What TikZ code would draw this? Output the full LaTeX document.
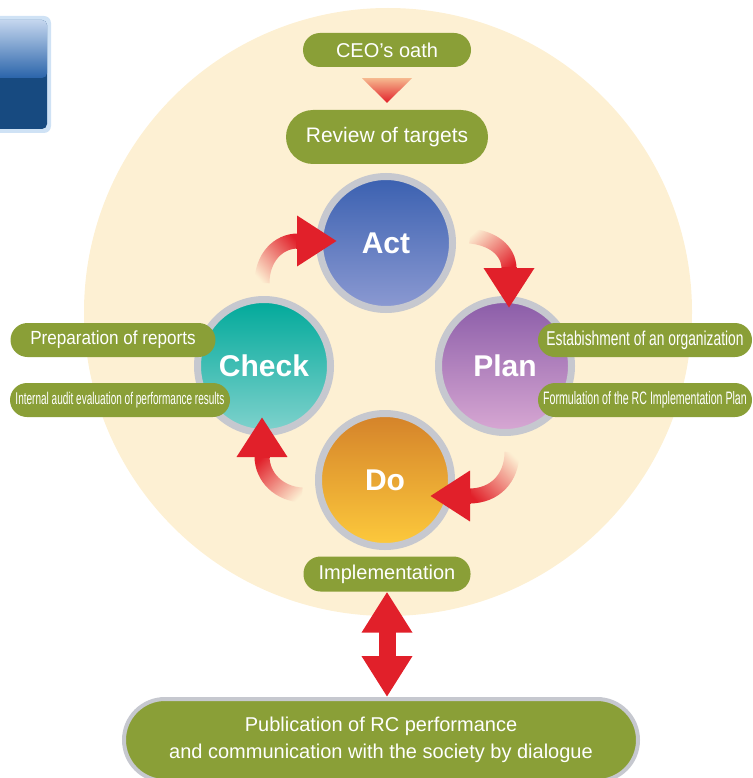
\documentclass[tikz,border=0pt]{standalone}
\usepackage{fontspec}
\setmainfont{Liberation Sans}
\usepackage{graphicx}
\usetikzlibrary{shadows,fadings,arrows.meta,calc}

\definecolor{beige}{HTML}{FDF0D3}
\definecolor{leaf}{HTML}{8A9F37}
\definecolor{cyclered}{HTML}{E1202A}
\definecolor{tritop}{HTML}{F6B88E}
\definecolor{ringgray}{HTML}{C6C8CF}
\definecolor{acttop}{HTML}{3A60B0}
\definecolor{actbot}{HTML}{8C9AD2}
\definecolor{checktop}{HTML}{00A99A}
\definecolor{checkbot}{HTML}{80D2CD}
\definecolor{plantop}{HTML}{8A5CA8}
\definecolor{planbot}{HTML}{D8A8D3}
\definecolor{dotop}{HTML}{D4822A}
\definecolor{dobot}{HTML}{FDCA3C}
\definecolor{boxrim}{HTML}{CFE2F5}
\definecolor{boxdark}{HTML}{174A80}
\definecolor{boxlight}{HTML}{C4D6EE}
\definecolor{boxmid}{HTML}{2A64AA}

\tikzfading[name=arrowfade, left color=transparent!100, middle color=transparent!0, right color=transparent!0]

\begin{document}
\begin{tikzpicture}[x=1pt,y=-1pt,
  pill/.style={rectangle, rounded corners=17pt, fill=leaf, text=white, minimum height=34pt,
    inner xsep=4pt, font=\fontsize{20}{24}\selectfont},
  phase/.style={circle, minimum size=133pt, draw=ringgray, line width=7pt, text=white,
    font=\fontsize{30}{36}\selectfont\bfseries,
    drop shadow={opacity=0.3, shadow xshift=0pt, shadow yshift=-3pt}},
  cycleshaft/.style={cyclered, line width=15pt, path fading=arrowfade},
  cyclehead/.style={cyclered, line width=15pt, -{Triangle[width=48pt,length=40pt]}}]
\useasboundingbox (0,0) rectangle (752,778);
\clip (0,0) rectangle (752,778);

% background
\fill[beige] (388,312) circle (304pt);
\fill[boxrim, rounded corners=7pt] (-20,16) rectangle (51,133);
\fill[boxdark, rounded corners=5pt] (-20,20) rectangle (47,129);
\shade[top color=boxlight, bottom color=boxmid, rounded corners=5pt] (-20,20) rectangle (47,78);

% targets
\node[pill, minimum width=168pt] (ceo) at (387,50) {CEO's oath};
\node[pill, minimum width=202pt, minimum height=54pt, rounded corners=27pt,
  font=\fontsize{21}{25}\selectfont] (review) at (387,137) {Review of targets};
\shade[top color=tritop, bottom color=cyclered] ($(ceo.south)+(-25,11)$) -- ($(ceo.south)+(25,11)$)
  -- ($(review.north)+(0,-7)$) -- cycle;

% cycle
\node[phase, top color=acttop, bottom color=actbot] (act) at (386,243) {Act};
\node[phase, top color=checktop, bottom color=checkbot] (check) at (264,366) {Check};
\node[phase, top color=plantop, bottom color=planbot] (plan) at (505,366) {Plan};
\node[phase, top color=dotop, bottom color=dobot] (do) at (385,480) {Do};

\coordinate (checkout) at (262,283);
\coordinate (actin) at (337,241);
\coordinate (actout) at (470,236);
\coordinate (planin) at (509,308);
\coordinate (planout) at (512,452);
\coordinate (doin) at (430,496);
\coordinate (doout) at (302,495);
\coordinate (checkin) at (262,417);
\draw[cycleshaft, fading angle=45] (checkout) .. controls (262,258) and (278,241) .. ($(actin)+(-39,0)$);
\draw[cyclehead] ($(actin)+(-41,0)$) -- (actin);
\draw[cycleshaft, fading angle=-45] (actout) .. controls (492,238) and (509,250) .. ($(planin)+(0,-39)$);
\draw[cyclehead] ($(planin)+(0,-41)$) -- (planin);
\draw[cycleshaft, fading angle=-135] (planout) .. controls (512,478) and (495,496) .. ($(doin)+(39,0)$);
\draw[cyclehead] ($(doin)+(41,0)$) -- (doin);
\draw[cycleshaft, fading angle=135] (doout) .. controls (280,494) and (262,478) .. ($(checkin)+(0,39)$);
\draw[cyclehead] ($(checkin)+(0,41)$) -- (checkin);

% tasks
\node[pill, minimum width=205pt, font=\fontsize{19}{23}\selectfont] (reports) at (113,340)
  {\scalebox{0.9}[1]{Preparation of reports}};
\node[pill, minimum width=220pt, font=\fontsize{17}{21}\selectfont] (audit) at (120,400)
  {\scalebox{0.59}[1]{Internal audit evaluation of performance results}};
\node[pill, minimum width=214pt] (organize) at (645,340)
  {\scalebox{0.69}[1]{Estabishment of an organization}};
\node[pill, minimum width=214pt, font=\fontsize{18}{22}\selectfont] (formulate) at (645,400)
  {\scalebox{0.59}[1]{Formulation of the RC Implementation Plan}};
\node[pill, minimum width=167pt, minimum height=35pt] (impl) at (387,574) {Implementation};

% society
\node[pill, minimum width=514pt, minimum height=82pt, rounded corners=41pt, draw=ringgray,
  line width=4pt, align=center, font=\fontsize{20}{27}\selectfont] (society) at (381,740)
  {Publication of RC performance\\and communication with the society by dialogue};
\draw[cyclered, line width=17pt, {Triangle[width=48pt,length=41pt]}-{Triangle[width=48pt,length=41pt]}]
  (impl.south) -- (impl.south |- society.north);
\end{tikzpicture}
\end{document}
